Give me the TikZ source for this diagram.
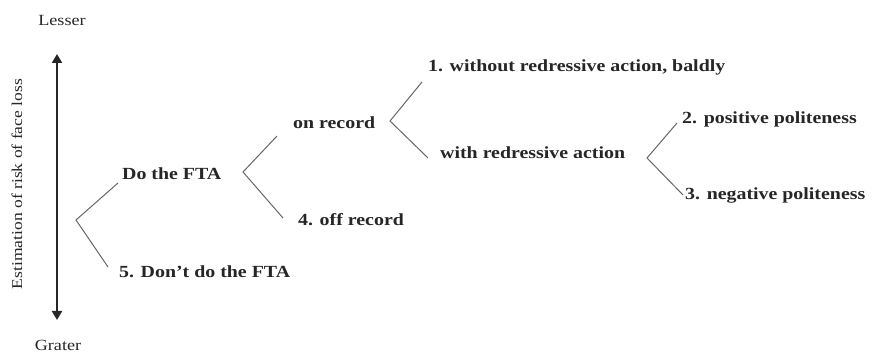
\documentclass[tikz,border=0pt]{standalone}
\usepackage{fontspec}
\setmainfont{Liberation Serif}[FakeStretch=1.17]
\usetikzlibrary{arrows.meta}
\tikzset{
  lbl/.style={font=\bfseries\fontsize{17}{19}\selectfont, anchor=west, inner sep=0pt, text=black!85},
  side/.style={font=\fontsize{15.5}{17}\selectfont, inner sep=0pt, text=black!85},
  est/.style={font=\fontsize{15}{17}\selectfont, inner sep=0pt, text=black!85},
  br/.style={draw=black!60, line width=1pt},
  axis/.style={draw=black!85, line width=2.2pt, {Triangle[length=9pt,width=10pt]}-{Triangle[length=9pt,width=10pt]}}
}
\begin{document}
\begin{tikzpicture}[x=1pt,y=-1pt]
\useasboundingbox (0,0) rectangle (872,352);
% side labels
\node[side] (lesser) at (62,21) {Lesser};
\node[side] (grater) at (58,345) {Grater};
\node[est, rotate=90] (estim) at (17,184) {Estimation of risk of face loss};
\coordinate (atop) at (57,54);
\coordinate (abot) at (57,320);
\draw[axis] (atop) -- (abot);
% tree nodes
\node[lbl] (do) at (122,174) {Do the FTA};
\node[lbl] (dont) at (119,272) {5. Don't do the FTA};
\node[lbl] (on) at (293,123) {on record};
\node[lbl] (off) at (298,220) {4. off record};
\node[lbl] (bald) at (428,67) {1. without redressive action, baldly};
\node[lbl] (with) at (440,153) {with redressive action};
\node[lbl] (pos) at (682,119) {2. positive politeness};
\node[lbl] (neg) at (685,195) {3. negative politeness};
% bracket vertices and ends
\coordinate (v1) at (76,220);
\coordinate (v1a) at (118,183);
\coordinate (v1b) at (108,267);
\coordinate (v2) at (243,172);
\coordinate (v2a) at (277,136);
\coordinate (v2b) at (283,218);
\coordinate (v3) at (390,121);
\coordinate (v3a) at (422,82);
\coordinate (v3b) at (428,158);
\coordinate (v4) at (647,158);
\coordinate (v4a) at (677,123);
\coordinate (v4b) at (683,195);
\draw[br] (v1a) -- (v1) -- (v1b);
\draw[br] (v2a) -- (v2) -- (v2b);
\draw[br] (v3a) -- (v3) -- (v3b);
\draw[br] (v4a) -- (v4) -- (v4b);
\end{tikzpicture}
\end{document}
